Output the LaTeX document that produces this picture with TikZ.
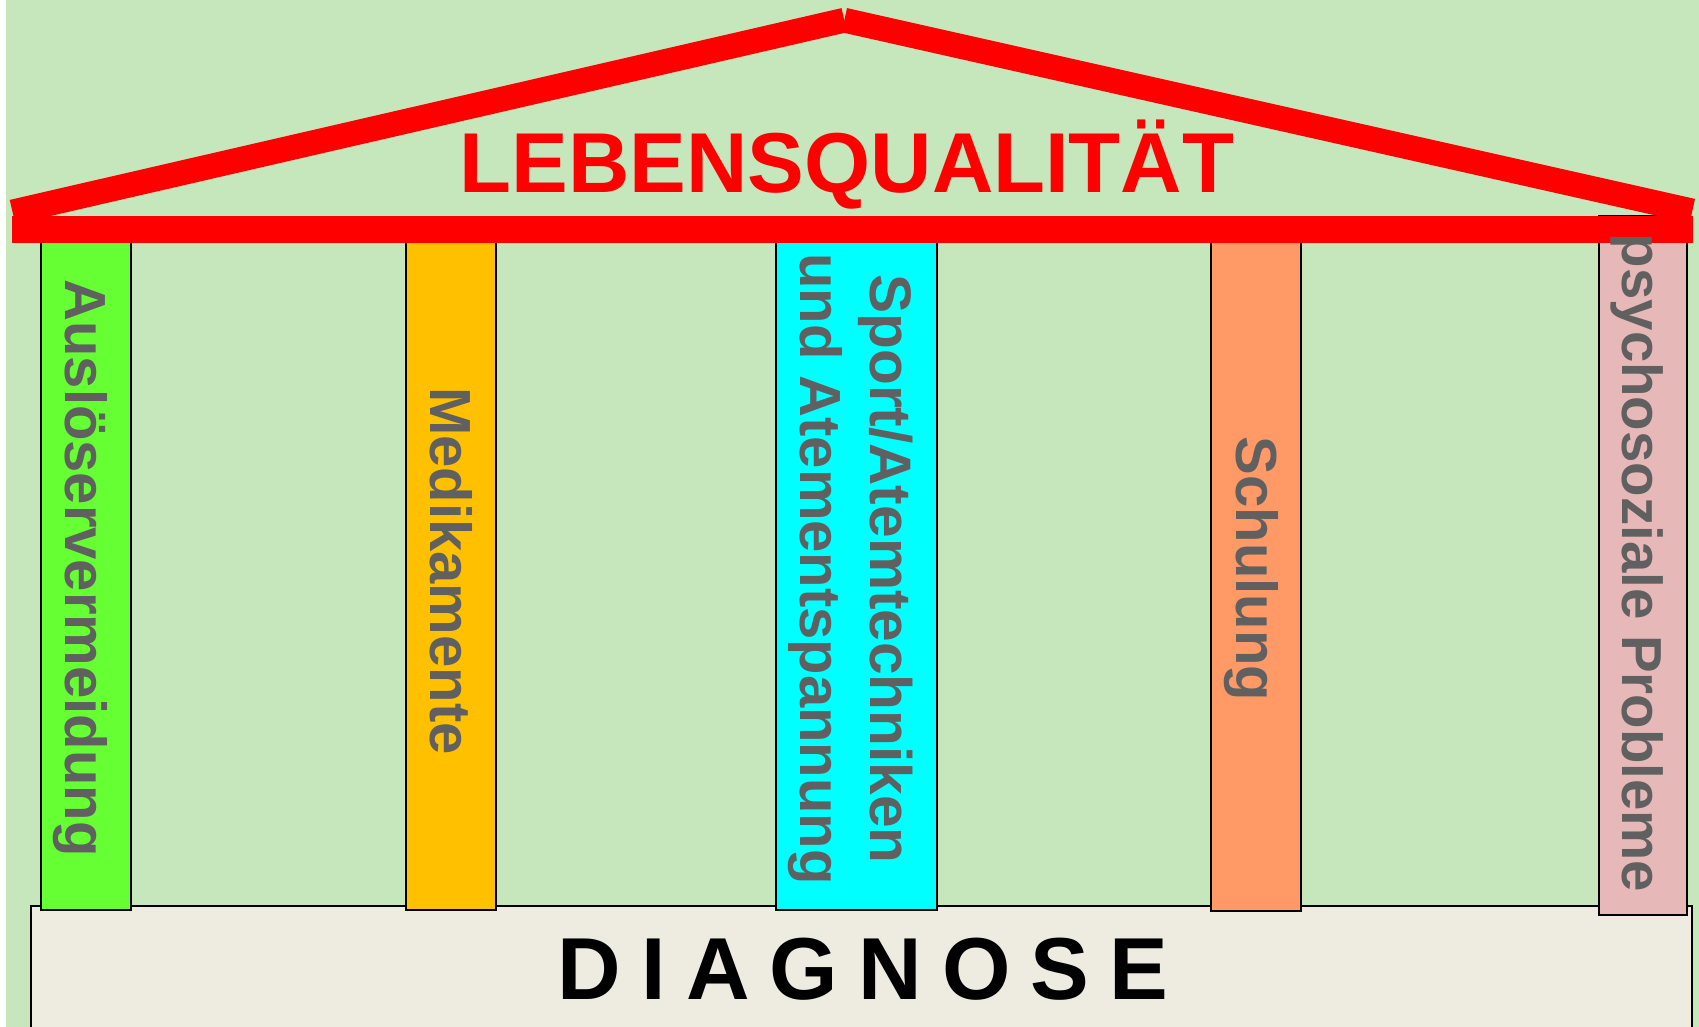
\documentclass[tikz,border=0pt]{standalone}
\usepackage{fontspec}
\setmainfont{Liberation Sans}
\definecolor{bggreen}{RGB}{197,231,187}
\definecolor{basecol}{RGB}{238,236,225}
\definecolor{pgreen}{RGB}{102,255,51}
\definecolor{porange}{RGB}{255,192,0}
\definecolor{pcyan}{RGB}{0,255,255}
\definecolor{psalmon}{RGB}{255,153,102}
\definecolor{ppink}{RGB}{230,185,184}
\definecolor{txtgray}{RGB}{96,96,96}
\definecolor{roofred}{RGB}{255,0,0}
\begin{document}
\begin{tikzpicture}[x=0.5pt,y=-0.5pt,
  pillar/.style={draw=black,line width=1pt},
  ptext/.style={rotate=-90,inner sep=0pt,text=txtgray,font=\fontsize{29pt}{35pt}\selectfont\bfseries,text height=20.8pt,text depth=0pt},
  roof/.style={draw=roofred,line width=12.4pt,line cap=butt}]
\useasboundingbox (0,0) rectangle (1699,1027);
\clip (0,0) rectangle (1699,1027);
\fill[white] (0,0) rectangle (1699,1027);
\fill[bggreen] (6,0) rectangle (1699,1027);
% base
\draw[fill=basecol,line width=1pt] (31,906) rectangle (1692,1045);
\node[inner sep=0pt,font=\fontsize{44pt}{50pt}\selectfont\bfseries,text height=31.5pt,text depth=0pt] (diag) at (863,968)
  {D\hspace{10.1pt}I\hspace{10.1pt}A\hspace{10.1pt}G\hspace{10.1pt}N\hspace{10.1pt}O\hspace{10.1pt}S\hspace{10.1pt}E};
% pillars
\draw[pillar,fill=pgreen] (41,232) rectangle (131,910);
\draw[pillar,fill=porange] (406,232) rectangle (496,910);
\draw[pillar,fill=pcyan] (776,232) rectangle (937,910);
\draw[pillar,fill=psalmon] (1211,232) rectangle (1301,911);
\draw[pillar,fill=ppink] (1599,216) rectangle (1687,915);
% roof
\fill[roofred] (12,216) rectangle (1693,243);
\coordinate (lend) at (12.5,212);
\coordinate (apex) at (844.3,20.2);
\coordinate (rend) at (1692.3,211);
\draw[roof] (lend) -- (apex);
\draw[roof] (apex) -- (rend);
\node[inner sep=0pt,text=roofred,font=\fontsize{42.5pt}{48pt}\selectfont\bfseries,text height=30.4pt,text depth=0pt] (title) at (847,162.5) {LEBENSQUALITÄT};
% pillar texts
\node[ptext] (t1) at (86,568) {Auslöservermeidung};
\node[ptext] (t2) at (451,571) {Medikamente};
\node[ptext,font=\fontsize{29.3pt}{35pt}\selectfont\bfseries] (t3a) at (891,569) {Sport/Atemtechniken};
\node[ptext] (t3b) at (821,569) {und Atementspannung};
\node[ptext] (t4) at (1257,569) {Schulung};
\node[ptext,font=\fontsize{28.2pt}{34pt}\selectfont\bfseries,text height=20.2pt] (t5) at (1643,563) {psychosoziale Probleme};
\end{tikzpicture}
\end{document}
